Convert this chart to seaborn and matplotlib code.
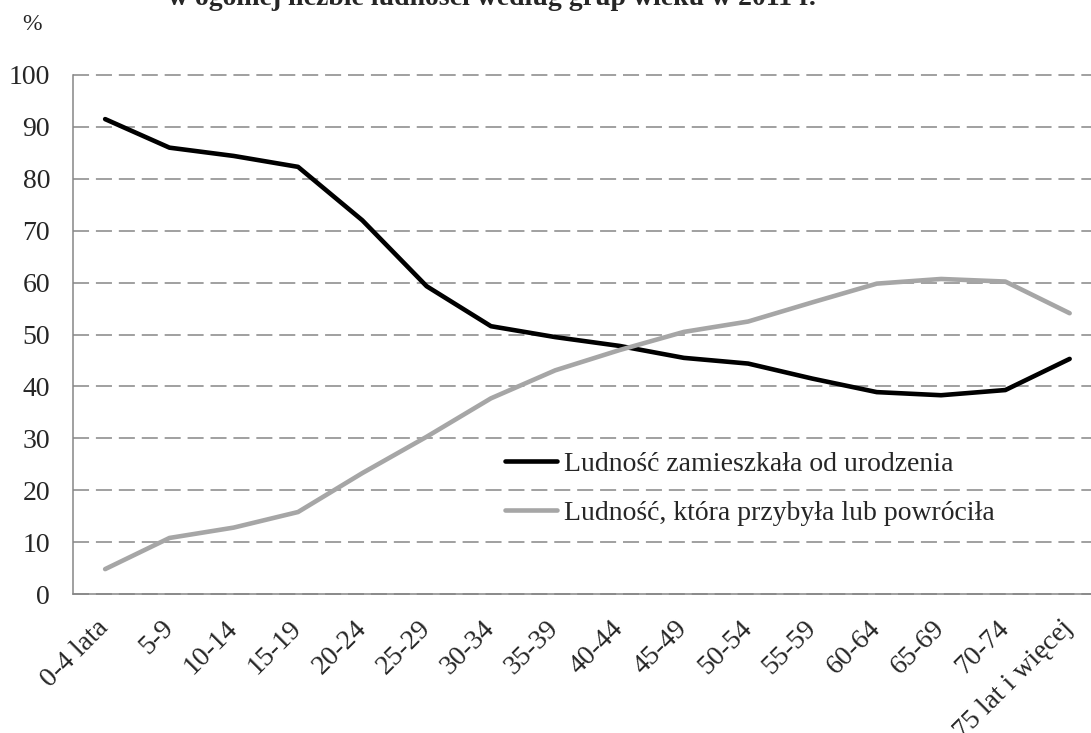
import numpy as np
import pandas as pd
import matplotlib
matplotlib.use('Agg')
import matplotlib.pyplot as plt
import seaborn as sns

age_groups = ['0-4 lata', '5-9', '10-14', '15-19', '20-24', '25-29', '30-34', '35-39',
              '40-44', '45-49', '50-54', '55-59', '60-64', '65-69', '70-74', '75 lat i więcej']
born_here = [91.5, 86.0, 84.4, 82.3, 72.0, 59.3, 51.6, 49.5, 47.8, 45.5, 44.4, 41.5, 38.9, 38.3, 39.3, 45.3]
arrived = [4.8, 10.8, 12.8, 15.8, 23.3, 30.3, 37.7, 43.1, 47.0, 50.5, 52.5, 56.2, 59.8, 60.7, 60.2, 54.1]
series_names = ['Ludność zamieszkała od urodzenia', 'Ludność, która przybyła lub powróciła']
title = 'w ogólnej liczbie ludności według grup wieku w 2011 r.'

sns.set_style('white')
plt.rcParams['font.family'] = ['Liberation Serif', 'DejaVu Serif']

df = pd.DataFrame({'pos': np.arange(len(age_groups)),
                   series_names[0]: born_here,
                   series_names[1]: arrived})
long_df = df.melt(id_vars='pos', var_name='series', value_name='value')

axis_grey = '#868686'

fig = plt.figure(figsize=(10.91, 7.33), dpi=100)
ax = fig.add_axes([0.0669, 0.1896, 0.943, 0.7081])

sns.lineplot(data=long_df, x='pos', y='value', hue='series', hue_order=series_names,
             palette=['black', '#A6A6A6'], linewidth=3.3, ax=ax)

ax.set_xlim(-0.5, 15.5)
ax.set_ylim(0, 100)
ax.set_yticks(range(0, 101, 10))
ax.set_xticks(np.arange(-0.5, 16, 1))
ax.set_xticks(np.arange(len(age_groups)), minor=True)
ax.set_xticklabels(age_groups, minor=True, rotation=45, ha='right', va='center',
                   rotation_mode='anchor')
ax.set_xlabel('')
ax.set_ylabel('')

ax.tick_params(axis='x', which='major', length=5, width=1.1, color=axis_grey, labelbottom=False)
ax.tick_params(axis='x', which='minor', length=0, pad=22, labelsize=20)
ax.tick_params(axis='y', length=4.5, width=1.1, color=axis_grey, pad=12, labelsize=20)

ax.grid(True, axis='y', linestyle=(0, (10.5, 4.5)), color=axis_grey, linewidth=1.1)
for gl in ax.get_ygridlines():
    gl.set_clip_on(False)

for side in ['top', 'right']:
    ax.spines[side].set_visible(False)
for side in ['left', 'bottom']:
    ax.spines[side].set_color(axis_grey)
    ax.spines[side].set_linewidth(1.1)

handles, labels = ax.get_legend_handles_labels()
ax.legend(handles, labels, frameon=False, loc='center left',
          bbox_to_anchor=(0.463, 0.3336), bbox_transform=fig.transFigure,
          fontsize=20, handlelength=1.87, handletextpad=0.25, labelspacing=0.85,
          borderpad=0, borderaxespad=0)

fig.text(168 / 1091, 1 - 5 / 733, title, fontsize=20, fontweight='bold',
         ha='left', va='baseline')
fig.text(22 / 1091, 1 - 24 / 733, '%', fontsize=17, va='center', ha='left')

fig.savefig('out.png', dpi=100)
plt.close(fig)
